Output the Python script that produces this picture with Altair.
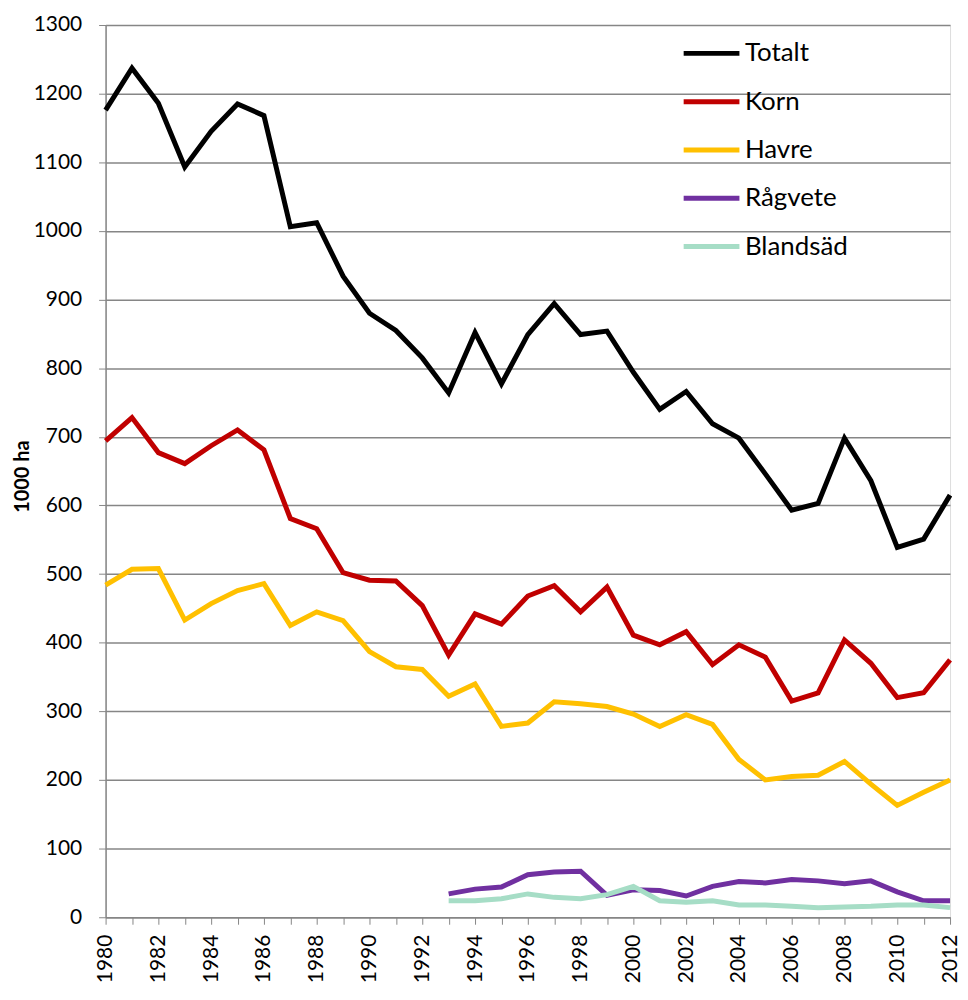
import altair as alt
import pandas as pd

years = list(range(1980, 2013))
totalt = [1176, 1237, 1186, 1093, 1145, 1185, 1168, 1006, 1012, 934, 880, 855, 815,
          764, 852, 777, 849, 894, 849, 854, 794, 740, 766, 719, 698, 646, 593, 603,
          698, 636, 539, 551, 615]
korn = [694, 728, 677, 661, 687, 710, 681, 581, 566, 502, 491, 490, 454, 382, 442,
        427, 468, 483, 445, 481, 411, 397, 416, 368, 397, 379, 315, 327, 404, 370,
        320, 327, 375]
havre = [484, 507, 508, 433, 457, 476, 486, 425, 445, 432, 387, 365, 361, 322, 340,
         278, 283, 314, 311, 307, 296, 278, 295, 281, 230, 200, 205, 207, 227, 194,
         163, 182, 200]
years_late = list(range(1993, 2013))
ragvete = [34, 41, 44, 62, 66, 67, 32, 40, 39, 31, 45, 52, 50, 55, 53, 49, 53, 37, 24, 24]
blandsad = [24, 24, 27, 34, 29, 27, 33, 45, 24, 22, 24, 18, 18, 16, 14, 15, 16, 18, 18, 14]

series = ["Totalt", "Korn", "Havre", "Rågvete", "Blandsäd"]
colors = ["#000000", "#C00000", "#FFC000", "#7030A0", "#A6DDC6"]

rows = []
for name, ys, vals in [("Totalt", years, totalt), ("Korn", years, korn),
                       ("Havre", years, havre), ("Rågvete", years_late, ragvete),
                       ("Blandsäd", years_late, blandsad)]:
    for y, v in zip(ys, vals):
        rows.append({"year": y, "value": v, "serie": name})
df = pd.DataFrame(rows)

FONT = "Lato"

chart = alt.Chart(df).mark_line(strokeWidth=5, strokeJoin="miter", strokeCap="butt").encode(
    x=alt.X("year:Q",
            scale=alt.Scale(domain=[1980, 2012], nice=False, zero=False),
            axis=alt.Axis(values=years, labelExpr="datum.value % 2 == 0 ? datum.value : ''",
                          labelAngle=-90, labelAlign="right", labelBaseline="middle",
                          labelFontSize=21, labelPadding=10, labelColor="black",
                          tickSize=7, tickColor="#868686", domainColor="#868686",
                          domainWidth=1.5, grid=False, title=None, labelFont=FONT,
                          labelOverlap=False)),
    y=alt.Y("value:Q",
            scale=alt.Scale(domain=[0, 1300], nice=False),
            axis=alt.Axis(values=list(range(0, 1301, 100)), format="d", labelFontSize=21,
                          labelPadding=17, labelColor="black", tickSize=7,
                          tickColor="#868686", domainColor="#868686", domainWidth=1.5,
                          gridColor="#868686", gridWidth=1.5, title="1000 ha",
                          titleFontSize=20, titleFontWeight="bold", titleColor="black",
                          titleFont=FONT, labelFont=FONT, titleX=-73, titleY=453,
                          titleAngle=270, titleAlign="center", titleBaseline="bottom",
                          titleLimit=200)),
    color=alt.Color("serie:N",
                    scale=alt.Scale(domain=series, range=colors),
                    legend=alt.Legend(orient="none", legendX=578, legendY=-2, title=None,
                                      symbolType="stroke", symbolSize=3136,
                                      symbolStrokeWidth=5, labelFontSize=26,
                                      labelFont=FONT, labelColor="black",
                                      rowPadding=4.5, labelOffset=3)),
    order=alt.Order("order:Q"),
).transform_calculate(
    order="indexof(['Blandsäd','Rågvete','Havre','Korn','Totalt'], datum.serie)"
).properties(
    width=848, height=896,
    autosize=alt.AutoSizeParams(type="none"),
    padding={"left": 98, "top": 15, "right": 10, "bottom": 76},
).configure_view(stroke="black", strokeWidth=1.5).configure(background="white")

chart.save("out.html", embed_options={"renderer": "svg", "actions": False})
